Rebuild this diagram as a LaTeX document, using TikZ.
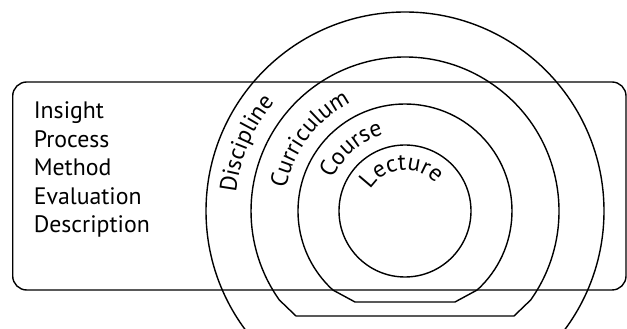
\documentclass[tikz,border=0pt]{standalone}
\usepackage{fontspec}
\setmainfont{PT Sans}
\usetikzlibrary{decorations.text}
\newcommand{\boxfont}{\fontsize{23.8}{28}\selectfont}
\begin{document}
\begin{tikzpicture}[x=1pt,y=1pt,
  ring/.style={draw=black,line width=1.4pt},
  frame/.style={draw=black,line width=1.4pt,rounded corners=14pt},
  item/.style={anchor=base west,inner sep=0pt,font=\boxfont},
  curved/.style={decorate,decoration={text along path,text align=center,text={|\boxfont|#1}}}
]
\useasboundingbox (0,0) rectangle (627,329);
\clip (0,0) rectangle (627,329);
\coordinate (c) at (405,118);
% frame
\draw[frame] (12.7,39) rectangle (626,247);
% rings
\draw[ring] (c) circle[radius=199pt];
\draw[ring] ([shift={(-35.3:154pt)}]c) arc[start angle=-35.3,end angle=215.3,radius=154pt]
  -- (296,13) -- (514,13) -- cycle;
\draw[ring] ([shift={(-47.6:107pt)}]c) arc[start angle=-47.6,end angle=227.6,radius=107pt]
  -- (355,27) -- (455,27) -- cycle;
\draw[ring] (c) circle[radius=66pt];
% list
\node[item] (t1) at (33.6,210.5) {Insight};
\node[item] (t2) at (33.6,181.7) {Process};
\node[item] (t3) at (33.6,153) {Method};
\node[item] (t4) at (33.6,124) {Evaluation};
\node[item] (t5) at (33.6,96) {Description};
% curved labels
\path[curved=Discipline] ([shift={(197:170pt)}]c) arc[start angle=197,end angle=117,radius=170pt];
\path[curved=Curriculum] ([shift={(183:121pt)}]c) arc[start angle=183,end angle=103,radius=121pt];
\path[curved=Course] ([shift={(181:79pt)}]c) arc[start angle=181,end angle=81,radius=79pt];
\path[curved=Lecture] ([shift={(180:41pt)}]c) arc[start angle=180,end angle=10,radius=41pt];
\end{tikzpicture}
\end{document}
